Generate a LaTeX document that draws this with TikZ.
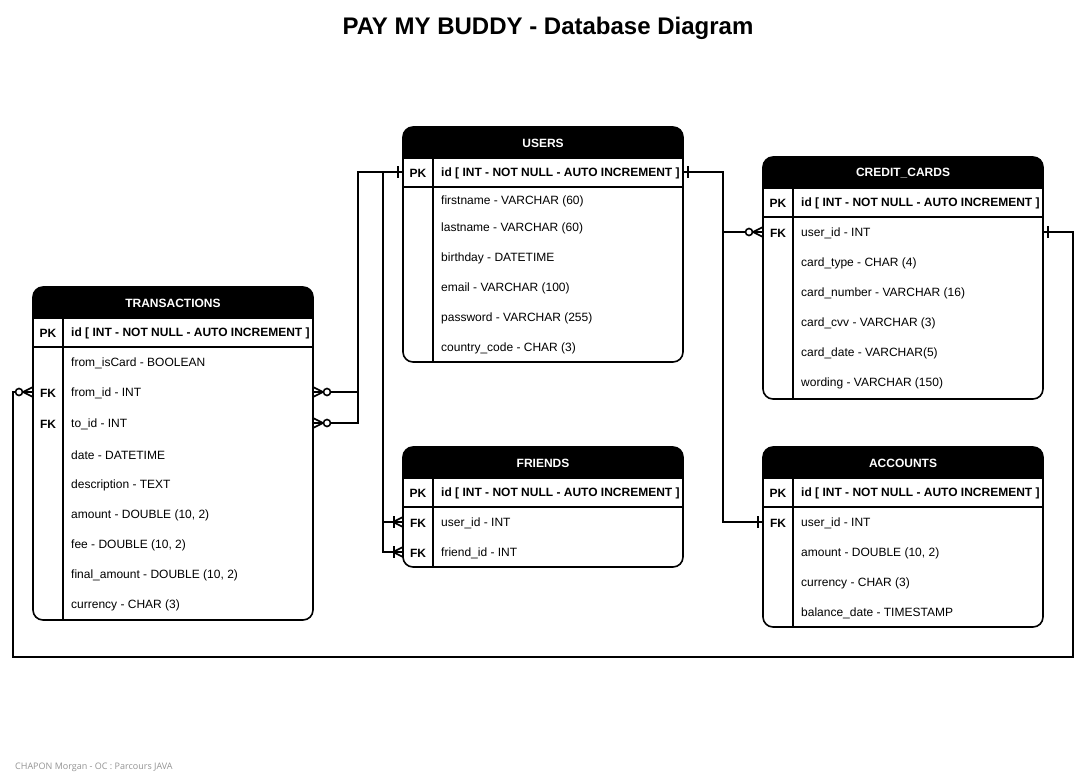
\documentclass[tikz,border=0pt]{standalone}
\usepackage{fontspec}
\setmainfont{Liberation Sans}
\newfontfamily\footfont{Open Sans}
\tikzset{
  tabframe/.style={draw, line width=1.6pt, rounded corners=10pt, minimum width=280pt, inner sep=0pt},
  tabline/.style={line width=1.2pt},
  tabtitle/.style={text=white, font=\fontsize{12}{14}\selectfont\bfseries, inner sep=0pt},
  keytxt/.style={font=\fontsize{12}{14}\selectfont\bfseries, inner sep=0pt},
  fieldtxt/.style={font=\fontsize{12}{14}\selectfont, anchor=west, inner sep=0pt},
  conn/.style={line width=1.6pt},
}
\newcommand\erframe[6]{%
  \begin{scope}
    \clip (#2,#3) rectangle ++(280,31);
    \fill[rounded corners=10pt] (#2,#3) rectangle ++(280,#4-#3);
  \end{scope}
  \node[tabframe, minimum height={(#4-#3)*1pt}] (#1) at ({#2+140},{(#3+#4)/2}) {};
  \node[tabtitle] (#1-title) at ({#2+140},{#3+16.5}) {#5};
  \draw[tabline] (#2,#6) -- ++(280,0);
  \draw[tabline] ({#2+30},{#3+31}) -- ({#2+30},#4);
}
\newcommand\errow[5]{%
  \node[keytxt] (#1-k) at ({#2+15},{#3+1.5}) {#4};
  \node[fieldtxt] (#1) at ({#2+38},{#3+1.5}) {#5};
}
\newcommand\mkone[2]{%
  \begin{scope}[shift={(#1)}, xscale=#2]
    \draw[conn] (5,-6) -- (5,6);
  \end{scope}}
\newcommand\mkzeromany[2]{%
  \begin{scope}[shift={(#1)}, xscale=#2]
    \draw[conn] (0,-5) -- (10,0) -- (0,5);
    \draw[conn, fill=white] (14,0) circle (3.5);
  \end{scope}}
\newcommand\mkonemany[2]{%
  \begin{scope}[shift={(#1)}, xscale=#2]
    \draw[conn] (0,-5) -- (10,0) -- (0,5);
    \draw[conn] (9,-6) -- (9,6);
  \end{scope}}
\begin{document}
\begin{tikzpicture}[x=1pt, y=-1pt]
\useasboundingbox[fill=white] (0,0) rectangle (1083,776);

\node[font=\fontsize{24}{28}\selectfont\bfseries] (title) at (548,28) {PAY MY BUDDY - Database Diagram};

% USERS
\erframe{users}{403}{127}{362}{USERS}{187}
\errow{u-id}{403}{172}{PK}{\textbf{id [ INT - NOT NULL - AUTO INCREMENT ]}}
\errow{u-fn}{403}{200}{}{firstname - VARCHAR (60)}
\errow{u-ln}{403}{227}{}{lastname - VARCHAR (60)}
\errow{u-bd}{403}{257}{}{birthday - DATETIME}
\errow{u-em}{403}{287}{}{email - VARCHAR (100)}
\errow{u-pw}{403}{317}{}{password - VARCHAR (255)}
\errow{u-cc}{403}{347}{}{country\_code - CHAR (3)}

% TRANSACTIONS
\erframe{trans}{33}{287}{620}{TRANSACTIONS}{347}
\errow{t-id}{33}{332}{PK}{\textbf{id [ INT - NOT NULL - AUTO INCREMENT ]}}
\errow{t-ic}{33}{362}{}{from\_isCard - BOOLEAN}
\errow{t-fr}{33}{392}{FK}{from\_id - INT}
\errow{t-to}{33}{423}{FK}{to\_id - INT}
\errow{t-da}{33}{454}{}{date - DATETIME}
\errow{t-de}{33}{484}{}{description - TEXT}
\errow{t-am}{33}{514}{}{amount - DOUBLE (10, 2)}
\errow{t-fe}{33}{544}{}{fee - DOUBLE (10, 2)}
\errow{t-fa}{33}{574}{}{final\_amount - DOUBLE (10, 2)}
\errow{t-cu}{33}{604}{}{currency - CHAR (3)}

% CREDIT_CARDS
\erframe{cards}{763}{157}{399}{CREDIT\_CARDS}{217}
\errow{c-id}{763}{202}{PK}{\textbf{id [ INT - NOT NULL - AUTO INCREMENT ]}}
\errow{c-us}{763}{232}{FK}{user\_id - INT}
\errow{c-ty}{763}{262}{}{card\_type - CHAR (4)}
\errow{c-nu}{763}{292}{}{card\_number - VARCHAR (16)}
\errow{c-cv}{763}{322}{}{card\_cvv - VARCHAR (3)}
\errow{c-da}{763}{352}{}{card\_date - VARCHAR(5)}
\errow{c-wo}{763}{382}{}{wording - VARCHAR (150)}

% FRIENDS
\erframe{friends}{403}{447}{567}{FRIENDS}{507}
\errow{f-id}{403}{492}{PK}{\textbf{id [ INT - NOT NULL - AUTO INCREMENT ]}}
\errow{f-us}{403}{522}{FK}{user\_id - INT}
\errow{f-fr}{403}{552}{FK}{friend\_id - INT}

% ACCOUNTS
\erframe{accounts}{763}{447}{627}{ACCOUNTS}{507}
\errow{a-id}{763}{492}{PK}{\textbf{id [ INT - NOT NULL - AUTO INCREMENT ]}}
\errow{a-us}{763}{522}{FK}{user\_id - INT}
\errow{a-am}{763}{552}{}{amount - DOUBLE (10, 2)}
\errow{a-cu}{763}{582}{}{currency - CHAR (3)}
\errow{a-bd}{763}{612}{}{balance\_date - TIMESTAMP}

% connection points
\coordinate (uL) at (403,172);
\coordinate (uR) at (683,172);
\coordinate (tFromR) at (313,392);
\coordinate (tToR) at (313,423);
\coordinate (tFromL) at (33,392);
\coordinate (fUser) at (403,522);
\coordinate (fFriend) at (403,552);
\coordinate (cUserL) at (763,232);
\coordinate (cUserR) at (1043,232);
\coordinate (aUser) at (763,522);
\coordinate (loopA) at (1073,657);
\coordinate (loopB) at (13,657);

% connectors
\draw[conn] (uL) -- ++(-45,0) |- (tFromR);
\draw[conn] (uL) -- ++(-45,0) |- (tToR);
\draw[conn] (uL) -- ++(-20,0) |- (fUser);
\draw[conn] (uL) -- ++(-20,0) |- (fFriend);
\draw[conn] (uR) -- ++(40,0) |- (cUserL);
\draw[conn] (uR) -- ++(40,0) |- (aUser);
\draw[conn] (cUserR) -| (loopA) -- (loopB) |- (tFromL);

% end markers
\mkone{uL}{-1}
\mkone{uR}{1}
\mkzeromany{tFromR}{1}
\mkzeromany{tToR}{1}
\mkonemany{fUser}{-1}
\mkonemany{fFriend}{-1}
\mkzeromany{cUserL}{-1}
\mkone{aUser}{-1}
\mkone{cUserR}{1}
\mkzeromany{tFromL}{-1}

\node[font=\footfont\fontsize{9}{11}\selectfont, text=black!42, anchor=west, inner sep=0pt] (footer) at (15,767) {CHAPON Morgan - OC : Parcours JAVA};
\end{tikzpicture}
\end{document}
